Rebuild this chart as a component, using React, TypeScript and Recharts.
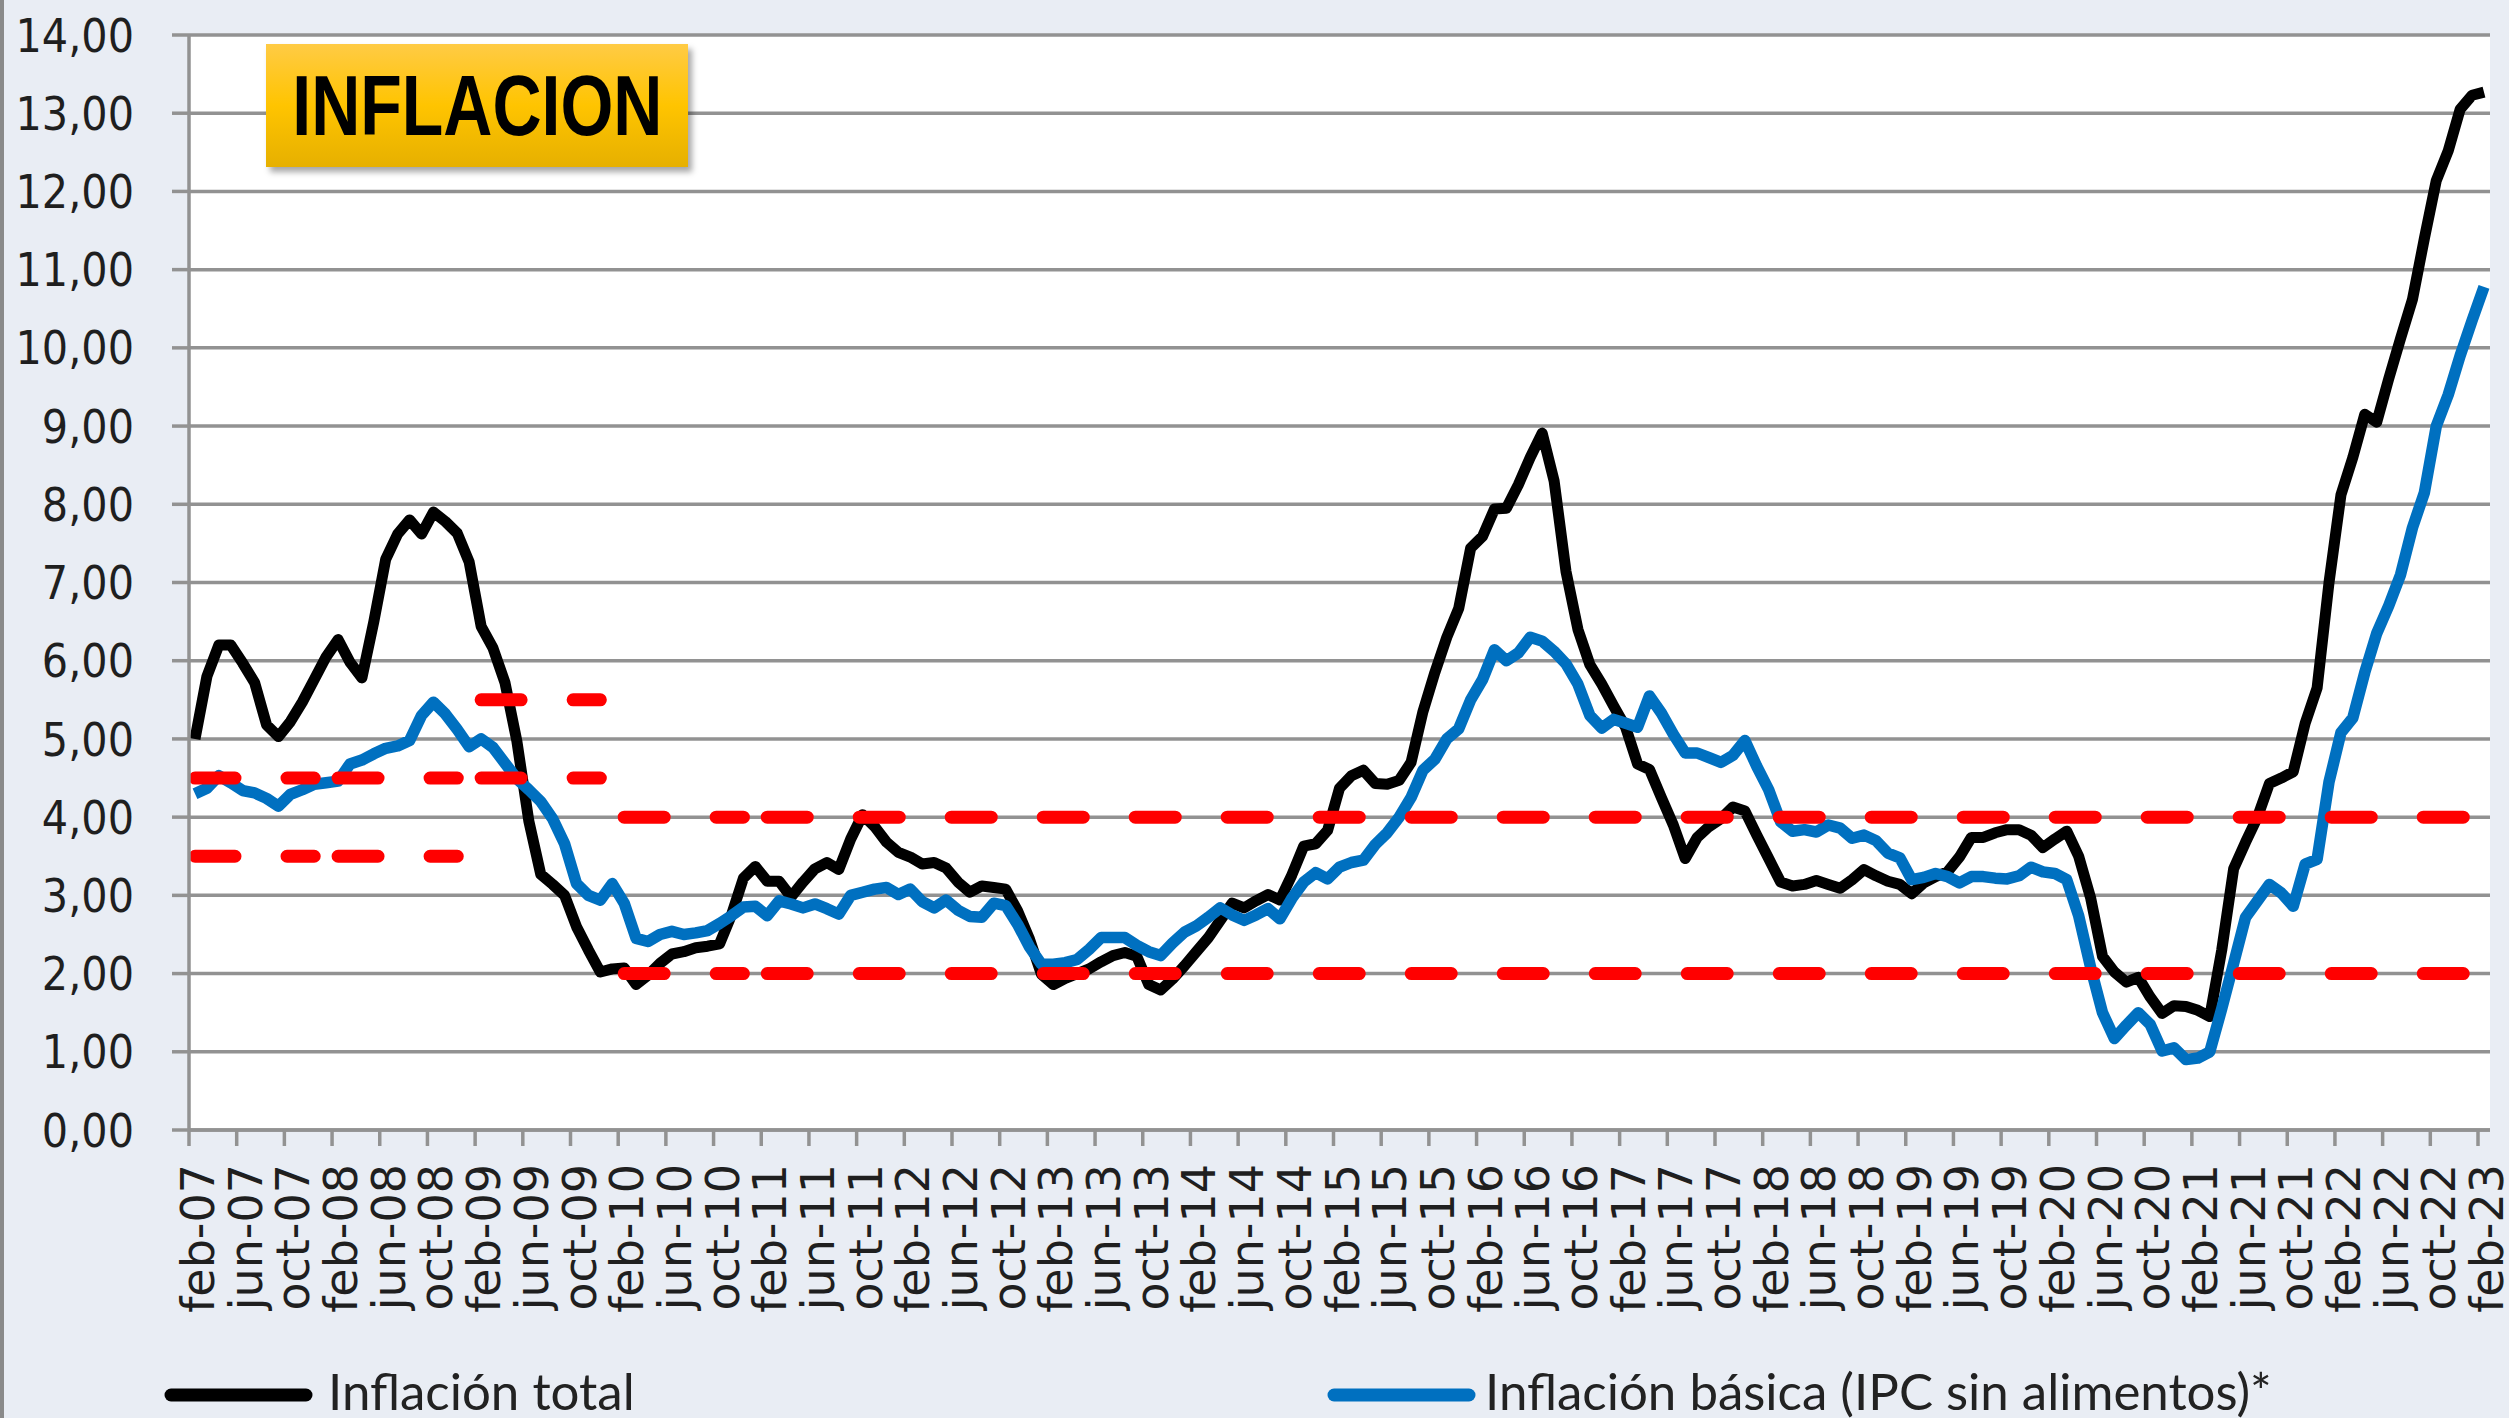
import React from 'react';
import { LineChart, Line, XAxis, YAxis, CartesianGrid } from 'recharts';

// serie mensual desde feb-07 hasta feb-23
const monthNames = ['ene', 'feb', 'mar', 'abr', 'may', 'jun', 'jul', 'ago', 'sep', 'oct', 'nov', 'dic'];
const firstMonth = 1; // feb
const firstYear = 2007;

const totalInflation = [
  5.0, 5.8, 6.2, 6.2, 5.97, 5.72, 5.18, 5.03, 5.22, 5.47, 5.76, 6.05,
  6.27, 5.98, 5.78, 6.5, 7.3, 7.62, 7.8, 7.62, 7.9, 7.78, 7.63, 7.26,
  6.44, 6.16, 5.72, 4.97, 3.95, 3.27, 3.14, 3.0, 2.6, 2.3, 2.02, 2.06,
  2.07, 1.86, 1.98, 2.13, 2.25, 2.28, 2.33, 2.35, 2.38, 2.75, 3.22, 3.37,
  3.18, 3.18, 2.98, 3.17, 3.34, 3.42, 3.33, 3.72, 4.03, 3.88, 3.68, 3.55,
  3.49, 3.4, 3.42, 3.35, 3.17, 3.04, 3.12, 3.1, 3.08, 2.8, 2.44, 1.99,
  1.86, 1.94, 2.0, 2.06, 2.15, 2.23, 2.27, 2.22, 1.86, 1.79, 1.93, 2.1,
  2.28, 2.46, 2.68, 2.9, 2.84, 2.93, 3.01, 2.94, 3.26, 3.63, 3.66, 3.83,
  4.37, 4.53, 4.6, 4.43, 4.42, 4.47, 4.7, 5.35, 5.85, 6.3, 6.67, 7.44,
  7.59, 7.94, 7.95, 8.25, 8.6, 8.91, 8.3, 7.14, 6.4, 5.95, 5.7, 5.42,
  5.15, 4.68, 4.61, 4.25, 3.9, 3.47, 3.74, 3.88, 3.98, 4.13, 4.08, 3.77,
  3.47, 3.17, 3.12, 3.14, 3.19, 3.14, 3.09, 3.2, 3.33, 3.25, 3.18, 3.14,
  3.02, 3.16, 3.24, 3.3, 3.49, 3.74, 3.74, 3.8, 3.84, 3.84, 3.77, 3.61,
  3.72, 3.82, 3.5, 2.97, 2.22, 2.02, 1.89, 1.95, 1.7, 1.49, 1.59, 1.58,
  1.53, 1.45, 2.3, 3.34, 3.68, 4.0, 4.43, 4.5, 4.58, 5.2, 5.65, 7.0,
  8.12, 8.6, 9.15, 9.05, 9.6, 10.12, 10.62, 11.4, 12.14, 12.52, 13.05, 13.23,
  13.27,
];

const coreInflation = [
  4.3, 4.37, 4.53, 4.44, 4.34, 4.31, 4.24, 4.14, 4.29, 4.35, 4.42, 4.44,
  4.46, 4.68, 4.73, 4.81, 4.88, 4.91, 4.98, 5.3, 5.47, 5.32, 5.12, 4.9,
  5.0, 4.89, 4.69, 4.49, 4.35, 4.2, 3.98, 3.66, 3.15, 3.0, 2.94, 3.15,
  2.9, 2.45, 2.41, 2.5, 2.54, 2.5, 2.52, 2.55, 2.64, 2.74, 2.85, 2.86,
  2.74, 2.93, 2.89, 2.84, 2.89, 2.83, 2.76, 3.0, 3.04, 3.08, 3.1, 3.01,
  3.08, 2.92, 2.84, 2.94, 2.81, 2.73, 2.72, 2.9, 2.87, 2.63, 2.34, 2.12,
  2.12, 2.14, 2.18, 2.31, 2.46, 2.46, 2.46, 2.36, 2.28, 2.23, 2.39, 2.53,
  2.61, 2.72, 2.84, 2.75, 2.68, 2.75, 2.83, 2.7, 2.96, 3.17, 3.29, 3.21,
  3.36, 3.42, 3.45, 3.65, 3.8, 4.0, 4.25, 4.6, 4.74, 5.0, 5.13, 5.5,
  5.76, 6.14, 6.0, 6.1, 6.3, 6.25, 6.12, 5.96, 5.7, 5.3, 5.14, 5.25,
  5.2, 5.15, 5.55, 5.33, 5.06, 4.82, 4.82, 4.76, 4.7, 4.79, 4.98, 4.65,
  4.35, 3.94, 3.82, 3.84, 3.81, 3.9, 3.86, 3.73, 3.77, 3.7, 3.54, 3.48,
  3.2, 3.23, 3.28, 3.24, 3.16, 3.24, 3.24, 3.22, 3.21, 3.25, 3.36, 3.3,
  3.28, 3.2, 2.74, 2.08, 1.5, 1.17, 1.34, 1.5, 1.35, 1.01, 1.05, 0.9,
  0.92, 1.0, 1.55, 2.13, 2.72, 2.93, 3.14, 3.03, 2.86, 3.4, 3.46, 4.45,
  5.08, 5.27, 5.85, 6.35, 6.7, 7.1, 7.7, 8.15, 9.0, 9.4, 9.9, 10.35,
  10.78,
];

// rango meta del banco central (indices de mes)
const targetBands = [
  { from: 0, to: 10, low: 3.5, high: 4.5 },
  { from: 12, to: 22, low: 3.5, high: 4.5 },
  { from: 24, to: 34, low: 4.5, high: 5.5 },
  { from: 36, to: 46, low: 2, high: 4 },
  { from: 48, to: 192, low: 2, high: 4 },
];

const yTicks = [0, 1, 2, 3, 4, 5, 6, 7, 8, 9, 10, 11, 12, 13, 14];

const data = totalInflation.map((total, i) => {
  const m = (firstMonth + i) % 12;
  const yr = firstYear + Math.floor((firstMonth + i) / 12);
  const band = targetBands.find((b) => i >= b.from && i <= b.to);
  return {
    label: `${monthNames[m]}-${String(yr % 100).padStart(2, '0')}`,
    total,
    core: coreInflation[i],
    low: band ? band.low : null,
    high: band ? band.high : null,
  };
});

const W = 2509;
const H = 1418;
const PLOT_BOTTOM = 1130;
const GRID = '#929292';

function XTick(props: any) {
  const { x, payload } = props;
  return (
    <g>
      <line x1={x - 6} x2={x - 6} y1={PLOT_BOTTOM} y2={PLOT_BOTTOM + 16} stroke={GRID} strokeWidth={3.5} />
      <text
        transform={`translate(${x + 19},${PLOT_BOTTOM + 34}) rotate(-90)`}
        textAnchor="end"
        fontFamily="DejaVu Sans"
        fontSize={46}
        fill="#1f1f1f"
      >
        {payload.value}
      </text>
    </g>
  );
}

function YTick(props: any) {
  const { x, y, payload } = props;
  return (
    <text
      transform={`translate(${x},${y}) scale(0.9,1)`}
      textAnchor="end"
      dy="0.36em"
      fontFamily="DejaVu Sans"
      fontSize={46}
      fill="#1f1f1f"
    >
      {payload.value.toFixed(2).replace('.', ',')}
    </text>
  );
}

export default function App() {
  return (
    <div
      style={{
        position: 'absolute', left: 0, top: 0, width: W, height: H, overflow: 'hidden',
        background: '#e9edf4', borderLeft: '4px solid #8a8a8a', boxSizing: 'border-box',
      }}
    >
      <div style={{ position: 'absolute', left: 0, top: 0 }}>
        <LineChart width={W} height={H} data={data} margin={{ top: 35, right: 23, bottom: 88, left: -4 }}>
          <CartesianGrid vertical={false} stroke={GRID} strokeWidth={3.5} fill="#ffffff" />
          <XAxis
            dataKey="label"
            interval={3}
            padding={{ left: 6, right: 6 }}
            height={200}
            tickLine={false}
            tickSize={0}
            tickMargin={0}
            axisLine={{ stroke: GRID, strokeWidth: 3.5 }}
            tick={XTick}
          />
          <YAxis
            domain={[0, 14]}
            ticks={yTicks}
            interval={0}
            width={189}
            tickSize={17}
            tickMargin={38}
            tickLine={{ stroke: GRID, strokeWidth: 3.5 }}
            axisLine={{ stroke: GRID, strokeWidth: 3.5 }}
            tick={YTick}
          />
          <Line dataKey="total" type="linear" stroke="#000000" strokeWidth={11} strokeLinejoin="round" dot={false} isAnimationActive={false} />
          <Line dataKey="core" type="linear" stroke="#0070c0" strokeWidth={11.5} strokeLinejoin="round" dot={false} isAnimationActive={false} />
          <Line dataKey="high" type="linear" stroke="#ff0000" strokeWidth={13} strokeDasharray="40 52" strokeLinecap="round" dot={false} connectNulls={false} isAnimationActive={false} />
          <Line dataKey="low" type="linear" stroke="#ff0000" strokeWidth={13} strokeDasharray="40 52" strokeLinecap="round" dot={false} connectNulls={false} isAnimationActive={false} />
        </LineChart>
      </div>

      <div
        style={{
          position: 'absolute', left: 262, top: 44, width: 422, height: 123,
          background: 'linear-gradient(to bottom, #ffcb45 0%, #ffc400 50%, #e6b000 100%)',
          boxShadow: '4px 5px 6px rgba(0,0,0,0.35)',
          display: 'flex', alignItems: 'center', justifyContent: 'center',
        }}
      >
        <span
          style={{
            display: 'inline-block', transform: 'scaleX(0.8)',
            fontFamily: '"Liberation Sans", Arial, sans-serif', fontWeight: 700, fontSize: 85, color: '#000',
          }}
        >
          INFLACION
        </span>
      </div>

      <svg width={W} height={H} style={{ position: 'absolute', left: -4, top: 0, pointerEvents: 'none' }}>
        <line x1={171} x2={306} y1={1395} y2={1395} stroke="#000000" strokeWidth={13} strokeLinecap="round" />
        <text x={328} y={1410} fontFamily="Lato" fontSize={51} fill="#222">Inflación total</text>
        <line x1={1334} x2={1469} y1={1395} y2={1395} stroke="#0070c0" strokeWidth={13} strokeLinecap="round" />
        <text x={1485} y={1410} fontFamily="Lato" fontSize={51} fill="#222">Inflación básica (IPC sin alimentos)*</text>
      </svg>
    </div>
  );
}
